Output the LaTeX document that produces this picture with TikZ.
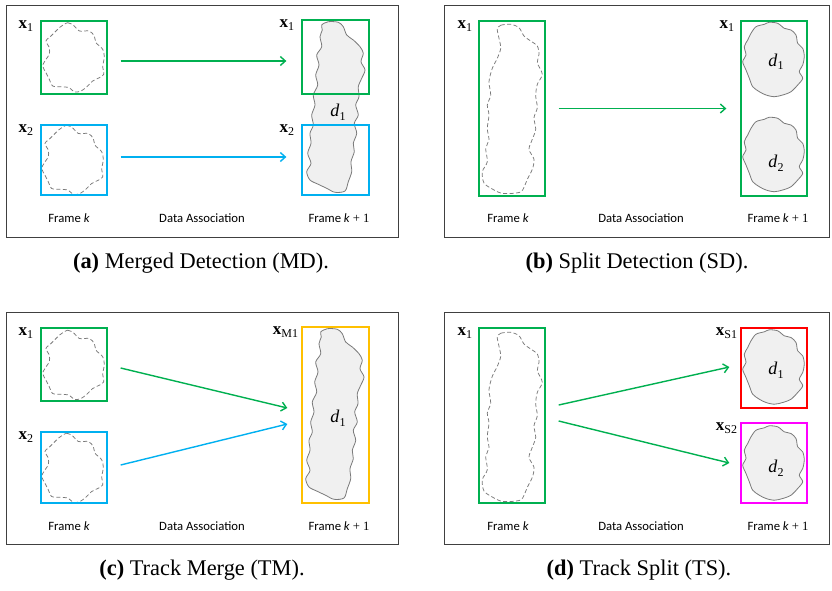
\documentclass[tikz,border=0pt]{standalone}
\usepackage{fontspec}
\setmainfont{Liberation Serif}
\newfontfamily\calib{Carlito}
\usetikzlibrary{arrows.meta,calc}

\definecolor{boxgreen}{HTML}{00B050}
\definecolor{boxblue}{HTML}{00B0F0}
\definecolor{boxyellow}{HTML}{FFC000}
\definecolor{boxred}{HTML}{FF0000}
\definecolor{boxmagenta}{HTML}{FF00FF}
\definecolor{framegray}{HTML}{404040}
\definecolor{blobfill}{HTML}{F0F0F0}
\definecolor{blobline}{HTML}{7A7A7A}

% outlines of the detections, given about their centre
\newcommand\tallsolid[1]{\draw[#1] plot[smooth cycle] coordinates {
 (-12.8,-82.5) (-6.2,-85.8) (3.8,-85.2) (8.8,-80.8) (12.2,-72.5) (18.8,-67.5)
 (25.5,-60.8) (28.8,-54.2) (26.5,-45.8) (30.5,-37.5) (27.2,-29.2) (23.8,-20.8)
 (24.5,-10.8) (21.2,-2.5) (23.8,7.5) (19.8,15.8) (22.2,25.8) (18.8,35.8)
 (19.8,44.2) (16.5,54.2) (17.2,64.2) (13.8,74.2) (10.5,83.5) (0.5,84.8)
 (-7.8,80.8) (-16.2,76.8) (-24.5,72.5) (-27.8,64.2) (-23.5,55.8) (-26.8,45.8)
 (-23.5,35.8) (-24.5,25.8) (-21.2,17.5) (-22.8,7.5) (-19.5,-2.5) (-21.2,-12.5)
 (-16.8,-22.5) (-18.8,-32.5) (-15.5,-42.5) (-17.8,-52.5) (-12.8,-60.8)
 (-14.5,-70.8) (-12.2,-77.5)};}
\newcommand\tallhollow[1]{\draw[#1] plot[smooth cycle] coordinates {
 (-14.2,-78.7) (-10.8,-82.7) (-0.8,-83.7) (7.5,-80.3) (12.5,-72) (19.2,-67)
 (25.8,-62) (27.5,-53.7) (25.8,-45.3) (30.8,-33.7) (25.8,-23.7) (24.2,-12)
 (25.8,-0.3) (22.5,9.7) (24.2,21.3) (20.8,31.3) (17.5,41.3) (22.5,51.3)
 (20.8,61.3) (15.8,71.3) (12.5,79.3) (9.2,84) (-0.8,85.5) (-10.8,85)
 (-19.2,81) (-27.5,75) (-29.2,63.7) (-24.2,53.7) (-25.8,40.3) (-22.5,32)
 (-24.2,20.3) (-22.5,7) (-24.2,-3) (-20.8,-13) (-22.5,-26.3) (-19.2,-39.7)
 (-14.2,-49.7) (-10.8,-59.7) (-12.5,-69.7)};}
\newcommand\roundsolid[1]{\draw[#1] plot[smooth cycle] coordinates {
 (-18,-33.3) (-9.7,-35.7) (-4.7,-37.7) (3.7,-36.7) (10.3,-31.7) (17,-30)
 (22,-25) (23.7,-16.7) (28.7,-11.7) (30.3,-3.3) (28.7,5) (25.3,11.7)
 (28.7,18.3) (23.7,25) (17,31.7) (8.7,35) (0.3,36.7) (-8,35) (-14.7,31.7)
 (-21.3,26.7) (-24.7,18.3) (-28,10) (-31.3,1.7) (-28,-5) (-29.7,-13.3)
 (-26.3,-20) (-23,-26.7)};}
\newcommand\roundhollow[1]{\draw[#1] plot[smooth cycle] coordinates {
 (-14.7,-29.8) (-6.3,-34.8) (0.3,-31.5) (5.3,-26.5) (15.3,-26.5) (20.3,-21.5)
 (22,-14.8) (28.7,-8.2) (30.3,0.2) (28.7,8.5) (29.7,16.8) (25.3,20.2)
 (18.7,23.5) (13.7,28.5) (7,33.5) (0.3,34.5) (-4.7,30.2) (-13,29.2)
 (-21.3,28.5) (-24.7,21.8) (-28,15.2) (-31.3,8.5) (-28,1.8) (-24.7,-3.2)
 (-24.7,-9.8) (-28,-16.5) (-23,-21.5) (-18,-26.5)};}

\newcommand\xsub[1]{\textbf{x}\raisebox{-3.5pt}{\fontsize{12}{12}\selectfont #1}}
\newcommand\dsub[1]{\textit{d}\raisebox{-3.5pt}{\fontsize{12}{12}\selectfont #1}}

\begin{document}
\begin{tikzpicture}[x=1pt,y=-1pt,
  panelframe/.style={draw=framegray, line width=1pt},
  tbox/.style={draw=#1, line width=1.3pt, inner sep=0pt},
  arr/.style={draw=#1, line width=1.4pt, -{Straight Barb[length=5pt,width=9pt]}},
  lab/.style={inner sep=0pt, anchor=base east, font=\fontsize{17}{17}\selectfont},
  dlab/.style={inner sep=0pt, font=\fontsize{18}{18}\selectfont},
  ftext/.style={inner sep=0pt, font=\calib\fontsize{12.7}{14}\selectfont},
  captext/.style={inner sep=0pt, font=\fontsize{22.4}{24}\selectfont},
  dashblob/.style={draw=blobline, line width=0.75pt, dash pattern=on 4pt off 2.5pt},
  fillblob/.style={draw=blobline, fill=blobfill, line width=0.8pt}]

\useasboundingbox (0,0) rectangle (832,590);
\fill[white] (0,0) rectangle (832,590);

% panel frames
\draw[panelframe] (6,5) rectangle (398,237);
\draw[panelframe] (444,5) rectangle (829,237);
\draw[panelframe] (6,312) rectangle (398,544);
\draw[panelframe] (444,312) rectangle (829,544);

% ---------------- (a) merged detection
\roundhollow{dashblob, shift={(74,57.5)}}
\roundhollow{dashblob, shift={(73,160)}}
\tallsolid{fillblob, shift={(334.5,107.5)}}
\node[tbox=boxgreen, minimum width=66pt, minimum height=73pt] (a1) at (74,57.5) {};
\node[tbox=boxblue, minimum width=66pt, minimum height=70pt] (a2) at (74,160) {};
\node[tbox=boxgreen, minimum width=67pt, minimum height=74pt] (a3) at (335.5,57) {};
\node[tbox=boxblue, minimum width=67pt, minimum height=70pt] (a4) at (335.5,160) {};
\node[lab] (la1) at ($(a1.north west)+(-7,8)$) {\xsub{1}};
\node[lab] (la2) at ($(a2.north west)+(-7,8)$) {\xsub{2}};
\node[lab] (la3) at ($(a3.north west)+(-7,8)$) {\xsub{1}};
\node[lab] (la4) at ($(a4.north west)+(-7,8)$) {\xsub{2}};
\node[dlab] (da1) at (338,112) {\dsub{1}};
\draw[arr=boxgreen] ([xshift=13pt,yshift=-3.5pt]a1.east) -- ([xshift=-15pt,yshift=-4pt]a3.west);
\draw[arr=boxblue] ([xshift=13pt,yshift=3pt]a2.east) -- ([xshift=-15pt,yshift=3pt]a4.west);
\node[ftext] (fa1) at (69,218) {Frame \textit{k}};
\node[ftext] (fa2) at (202,218) {Data Association};
\node[ftext] (fa3) at (339,218) {Frame \textit{k} \rmfamily+ 1};
\node[captext] (capa) at (201,263) {\textbf{(a)} Merged Detection (MD).};

% ---------------- (b) split detection
\tallhollow{dashblob, shift={(511.5,108)}}
\roundsolid{fillblob, shift={(774,60)}}
\roundsolid{fillblob, shift={(774,155)}}
\node[tbox=boxgreen, minimum width=66pt, minimum height=175pt] (b1) at (512,108.5) {};
\node[tbox=boxgreen, minimum width=66pt, minimum height=175pt] (b2) at (774,108.5) {};
\node[lab] (lb1) at ($(b1.north west)+(-6,8)$) {\xsub{1}};
\node[lab] (lb2) at ($(b2.north west)+(-6,8)$) {\xsub{1}};
\node[dlab] (db1) at (776,62) {\dsub{1}};
\node[dlab] (db2) at (776,163) {\dsub{2}};
\draw[arr=boxgreen] ([xshift=13pt]b1.east) -- ([xshift=-14pt]b2.west);
\node[ftext] (fb1) at (508,218) {Frame \textit{k}};
\node[ftext] (fb2) at (641,218) {Data Association};
\node[ftext] (fb3) at (778,218) {Frame \textit{k} \rmfamily+ 1};
\node[captext] (capb) at (637,263) {\textbf{(b)} Split Detection (SD).};

% ---------------- (c) track merge
\roundhollow{dashblob, shift={(74,365)}}
\roundhollow{dashblob, shift={(73,468)}}
\tallsolid{fillblob, shift={(333.5,414.5)}}
\node[tbox=boxgreen, minimum width=66pt, minimum height=73pt] (c1) at (74,364.5) {};
\node[tbox=boxblue, minimum width=66pt, minimum height=71pt] (c2) at (74,467.5) {};
\node[tbox=boxyellow, minimum width=67pt, minimum height=176pt] (c3) at (335.5,415) {};
\node[lab] (lc1) at ($(c1.north west)+(-7,8)$) {\xsub{1}};
\node[lab] (lc2) at ($(c2.north west)+(-7,8)$) {\xsub{2}};
\node[lab] (lc3) at ($(c3.north west)+(-3,8)$) {\xsub{M1}};
\node[dlab] (dc1) at (338,418) {\dsub{1}};
\draw[arr=boxgreen] ([xshift=13pt,yshift=-3.5pt]c1.east) -- ([xshift=-14pt,yshift=7pt]c3.west);
\draw[arr=boxblue] ([xshift=13pt,yshift=2.5pt]c2.east) -- ([xshift=-14pt,yshift=-9pt]c3.west);
\node[ftext] (fc1) at (69,526) {Frame \textit{k}};
\node[ftext] (fc2) at (202,526) {Data Association};
\node[ftext] (fc3) at (339,526) {Frame \textit{k} \rmfamily+ 1};
\node[captext] (capc) at (202,570) {\textbf{(c)} Track Merge (TM).};

% ---------------- (d) track split
\tallhollow{dashblob, shift={(511.5,416)}}
\roundsolid{fillblob, shift={(774,367.5)}}
\roundsolid{fillblob, shift={(774,463.5)}}
\node[tbox=boxgreen, minimum width=66pt, minimum height=175pt] (d1) at (512,415.5) {};
\node[tbox=boxred, minimum width=66pt, minimum height=80pt] (d2) at (774,368) {};
\node[tbox=boxmagenta, minimum width=66pt, minimum height=80pt] (d3) at (774,463) {};
\node[lab] (ld1) at ($(d1.north west)+(-6,8)$) {\xsub{1}};
\node[lab] (ld2) at ($(d2.north west)+(-3,8)$) {\xsub{S1}};
\node[lab] (ld3) at ($(d3.north west)+(-3,8)$) {\xsub{S2}};
\node[dlab] (dd1) at (776,370) {\dsub{1}};
\node[dlab] (dd2) at (776,468) {\dsub{2}};
\draw[arr=boxgreen] ([xshift=13pt,yshift=10.5pt]d1.east) -- ([xshift=-11pt,yshift=1pt]d2.west);
\draw[arr=boxgreen] ([xshift=13pt,yshift=-5.5pt]d1.east) -- ([xshift=-11pt]d3.west);
\node[ftext] (fd1) at (508,526) {Frame \textit{k}};
\node[ftext] (fd2) at (641,526) {Data Association};
\node[ftext] (fd3) at (778,526) {Frame \textit{k} \rmfamily+ 1};
\node[captext] (capd) at (639,570) {\textbf{(d)} Track Split (TS).};
\end{tikzpicture}
\end{document}
